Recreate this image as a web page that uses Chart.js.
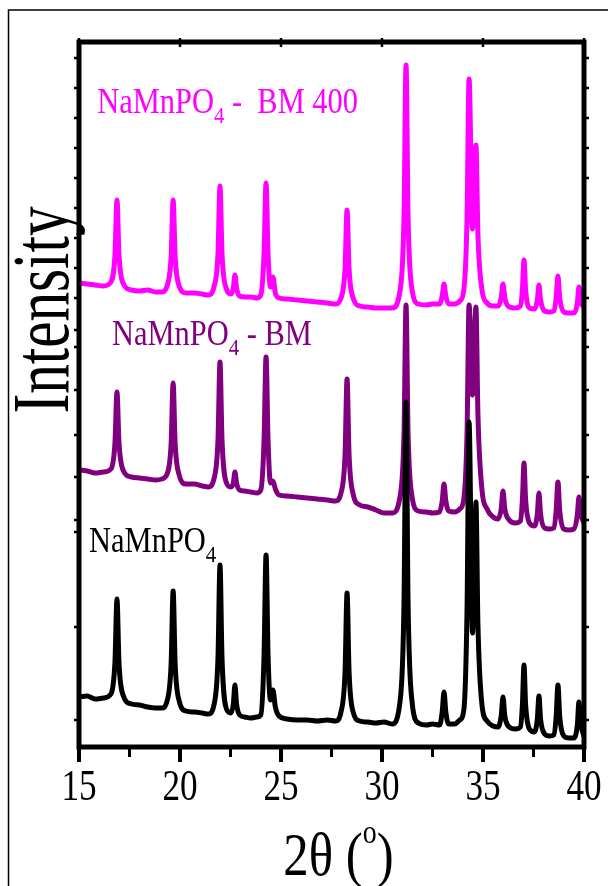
<!DOCTYPE html>
<html>
<head>
<meta charset="utf-8">
<script src="https://cdn.jsdelivr.net/npm/chart.js@4"></script>
<style>
  html, body { margin: 0; padding: 0; background: #fff; }
  canvas { display: block; }
</style>
</head>
<body>
<canvas id="c" width="608" height="886"></canvas>
<script>
// ---- data ----
const twoTheta = [
  15.0, 15.4, 15.8, 16.2, 16.58, 16.78, 16.88, 16.98, 17.18, 17.6,
  18.0, 18.4, 18.8, 19.1, 19.36, 19.56, 19.66, 19.76, 19.96, 20.3,
  20.7, 21.1, 21.4, 21.68, 21.88, 21.98, 22.08, 22.3, 22.52, 22.64,
  22.72, 22.8, 22.95, 23.2, 23.5, 23.8, 24.0, 24.16, 24.26, 24.36,
  24.48, 24.60, 24.72, 24.9, 25.3, 25.8, 26.3, 26.8, 27.3, 27.7,
  27.97, 28.17, 28.27, 28.37, 28.57, 28.9, 29.3, 29.7, 30.1, 30.5,
  30.89, 31.09, 31.19, 31.29, 31.49, 31.8, 32.2, 32.5, 32.85, 32.98,
  33.07, 33.16, 33.3, 33.6, 33.85, 34.05, 34.21, 34.31, 34.48, 34.58,
  34.65, 34.75, 34.95, 35.2, 35.5, 35.75, 35.9, 35.99, 36.08, 36.3,
  36.6, 36.85, 36.95, 37.03, 37.11, 37.3, 37.55, 37.69, 37.77, 37.85,
  38.05, 38.3, 38.5, 38.62, 38.71, 38.8, 39.0, 39.25, 39.5, 39.67,
  39.75, 39.83, 40.0
];
// intensities (arbitrary units, already stacked as in the figure)
const naMnPO4 = [
  48, 49, 46, 47, 51, 83, 146, 82, 50, 41,
  40, 38, 37, 37, 44, 81, 154, 81, 44, 34,
  33, 32, 31, 40, 87, 180, 87, 36, 32, 41,
  60, 41, 30, 28, 27, 28, 30, 89, 190, 89,
  45, 55, 38, 29, 26, 25, 25, 24, 25, 24,
  33, 73, 152, 73, 33, 24, 23, 22, 23, 21,
  43, 143, 343, 143, 43, 22, 20, 21, 20, 33,
  53, 33, 21, 21, 25, 35, 136, 323, 112, 180,
  243, 120, 40, 24, 19, 18, 29, 48, 29, 18,
  16, 18, 40, 80, 40, 16, 13, 26, 49, 26,
  11, 9, 10, 28, 60, 28, 9, 7, 7, 20,
  43, 22, 9
];
const naMnPO4BM = [
  275, 274, 272, 273, 276, 302, 353, 302, 275, 268,
  267, 266, 265, 266, 271, 301, 362, 301, 270, 261,
  261, 259, 258, 266, 305, 383, 305, 262, 258, 262,
  273, 262, 255, 254, 253, 252, 255, 304, 388, 304,
  262, 264, 256, 250, 249, 248, 247, 246, 245, 244,
  252, 290, 366, 290, 251, 240, 238, 235, 232, 232,
  248, 312, 440, 312, 248, 234, 233, 232, 233, 244,
  261, 244, 234, 233, 236, 246, 312, 440, 350, 410,
  438, 330, 255, 236, 228, 226, 236, 254, 236, 225,
  222, 224, 245, 282, 245, 222, 219, 231, 252, 231,
  217, 216, 217, 234, 263, 234, 216, 215, 216, 230,
  248, 232, 222
];
const naMnPO4BM400 = [
  462, 461, 460, 459, 463, 490, 545, 490, 462, 455,
  454, 455, 453, 453, 459, 488, 545, 488, 459, 452,
  452, 451, 450, 458, 491, 559, 491, 456, 451, 457,
  470, 457, 449, 448, 448, 447, 450, 491, 562, 491,
  458, 468, 452, 447, 446, 445, 444, 443, 442, 441,
  447, 476, 535, 476, 447, 439, 438, 437, 437, 437,
  454, 529, 680, 529, 455, 441, 440, 441, 441, 449,
  461, 449, 441, 441, 444, 455, 527, 666, 516, 570,
  600, 510, 455, 442, 439, 439, 447, 461, 447, 438,
  437, 439, 455, 485, 455, 437, 436, 445, 460, 445,
  434, 433, 434, 447, 469, 447, 433, 432, 432, 442,
  458, 444, 438
];
const seriesNames = ['NaMnPO4', 'NaMnPO4 - BM', 'NaMnPO4 -  BM 400'];
const xMajorTicks = [15, 20, 25, 30, 35, 40];
const xMinorTicks = [17.5, 22.5, 27.5, 32.5, 37.5];
const xTickLabels = ['15', '20', '25', '30', '35', '40'];
const yTicks = [687, 657, 627, 597, 567, 537, 507, 477, 447, 415, 398, 355, 310, 268, 225, 213, 118, 25];
const xTitle = '2θ (o)';
const yTitle = 'Intensity';

const FONT = '"Liberation Serif", "Times New Roman", serif';

function richText(ctx, parts, x, y, opt) {
  ctx.save();
  ctx.translate(x, y);
  if (opt.rotate) ctx.rotate(opt.rotate);
  ctx.scale(opt.sx, 1);
  let total = 0;
  parts.forEach(p => {
    ctx.font = p.size + 'px ' + FONT;
    p.w = ctx.measureText(p.t).width;
    total += p.w;
  });
  let cx = opt.align === 'center' ? -total / 2 : 0;
  ctx.fillStyle = opt.color;
  ctx.textAlign = 'left';
  ctx.textBaseline = 'alphabetic';
  parts.forEach(p => {
    ctx.font = p.size + 'px ' + FONT;
    ctx.fillText(p.t, cx, p.dy || 0);
    cx += p.w;
  });
  ctx.restore();
}

function chemParts(name, size) {
  // split "NaMnPO4..." so the 4 is a subscript
  const i = name.indexOf('4');
  return [
    { t: name.slice(0, i), size: size },
    { t: '4', size: Math.round(size * 0.68), dy: size * 0.28 },
    { t: name.slice(i + 1), size: size }
  ];
}

const decor = {
  id: 'decor',
  beforeDraw(chart) {
    const ctx = chart.ctx;
    ctx.save();
    ctx.fillStyle = '#fff';
    ctx.fillRect(0, 0, chart.width, chart.height);
    ctx.strokeStyle = '#000';
    ctx.lineWidth = 1.5;
    ctx.beginPath();
    ctx.moveTo(8.5, chart.height);
    ctx.lineTo(8.5, 10);
    ctx.lineTo(chart.width, 10);
    ctx.stroke();
    ctx.restore();
  },
  afterDatasetsDraw(chart) {
    const ctx = chart.ctx;
    const a = chart.chartArea;
    const xs = chart.scales.x, ys = chart.scales.y;
    ctx.save();
    ctx.strokeStyle = '#000';
    ctx.lineCap = 'butt';
    // frame
    ctx.lineWidth = 5;
    ctx.strokeRect(a.left, a.top, a.right - a.left, a.bottom - a.top);
    // bottom & top x ticks
    xMajorTicks.forEach(v => {
      const px = xs.getPixelForValue(v);
      ctx.lineWidth = 4;
      ctx.beginPath(); ctx.moveTo(px, a.bottom); ctx.lineTo(px, a.bottom + 15); ctx.stroke();
      ctx.lineWidth = 2.5;
      ctx.beginPath(); ctx.moveTo(px, a.top - 4); ctx.lineTo(px, a.top + 5); ctx.stroke();
    });
    xMinorTicks.forEach(v => {
      const px = xs.getPixelForValue(v);
      ctx.lineWidth = 3;
      ctx.beginPath(); ctx.moveTo(px, a.bottom); ctx.lineTo(px, a.bottom + 10); ctx.stroke();
    });
    // y ticks, both sides
    yTicks.forEach(v => {
      const py = ys.getPixelForValue(v);
      ctx.lineWidth = 2.5;
      ctx.beginPath(); ctx.moveTo(a.left - 5, py); ctx.lineTo(a.left + 2, py); ctx.stroke();
      ctx.beginPath(); ctx.moveTo(a.right - 2, py); ctx.lineTo(a.right + 5, py); ctx.stroke();
    });
    ctx.restore();

    // tick labels
    xMajorTicks.forEach((v, i) => {
      richText(ctx, [{ t: xTickLabels[i], size: 44 }], xs.getPixelForValue(v), a.bottom + 53,
        { sx: 0.8, align: 'center', color: '#000' });
    });
    // axis titles
    const xt = xTitle.split('o');
    richText(ctx, [
      { t: xt[0], size: 62 },
      { t: 'o', size: 34, dy: -32 },
      { t: xt[1], size: 62 }
    ], (a.left + a.right) / 2 + 7, a.bottom + 128, { sx: 0.82, align: 'center', color: '#000' });
    richText(ctx, [{ t: yTitle, size: 80 }], 68, 310,
      { sx: 0.74, align: 'center', color: '#000', rotate: -Math.PI / 2 });

    // series labels
    const colors = ['#000000', '#800080', '#ff00ff'];
    const anchors = [[15.5, 193], [16.63, 400], [15.9, 632]];
    seriesNames.forEach((n, i) => {
      richText(ctx, chemParts(n, 35), xs.getPixelForValue(anchors[i][0]), ys.getPixelForValue(anchors[i][1]),
        { sx: 0.87, align: 'left', color: colors[i] });
    });
  }
};

function pts(arr) { return twoTheta.map((x, i) => ({ x: x, y: arr[i] })); }

new Chart(document.getElementById('c'), {
  type: 'line',
  data: {
    datasets: [
      { label: seriesNames[0], data: pts(naMnPO4), borderColor: '#000000' },
      { label: seriesNames[1], data: pts(naMnPO4BM), borderColor: '#800080' },
      { label: seriesNames[2], data: pts(naMnPO4BM400), borderColor: '#ff00ff' }
    ]
  },
  options: {
    responsive: false,
    animation: false,
    devicePixelRatio: 1,
    layout: { padding: { left: 79, top: 42, right: 24, bottom: 139 } },
    elements: {
      point: { radius: 0 },
      line: { borderWidth: 5, cubicInterpolationMode: 'monotone', borderJoinStyle: 'round', borderCapStyle: 'round' }
    },
    scales: {
      x: { type: 'linear', min: 15, max: 40, display: false },
      y: { type: 'linear', min: -2, max: 703, display: false }
    },
    plugins: { legend: { display: false }, tooltip: { enabled: false } }
  },
  plugins: [decor]
});
</script>
</body>
</html>
